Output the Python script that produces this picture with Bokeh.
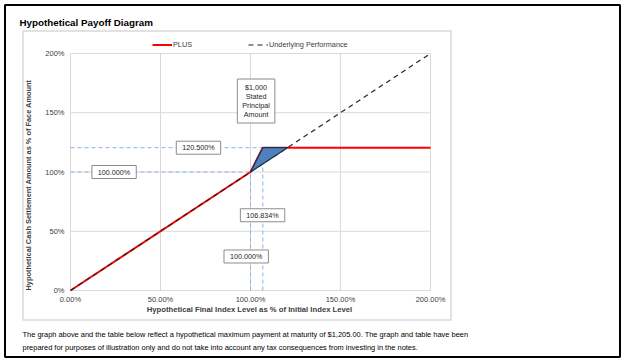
import math
from bokeh.plotting import figure
from bokeh.models import Range1d, Label, Legend, LegendItem, BoxAnnotation
from bokeh.core.properties import value
from bokeh.embed import file_html
from bokeh.resources import INLINE

# ---------------- data ----------------
title_text = "Hypothetical Payoff Diagram"
note_lines = [
    "The graph above and the table below reflect a hypothetical maximum payment at maturity of $1,205.00. The graph and table have been",
    "prepared for purposes of illustration only and do not take into account any tax consequences from investing in the notes.",
]
x_axis_title = "Hypothetical Final Index Level as % of Initial Index Level"
y_axis_title = "Hypothetical Cash Settlement Amount as % of Face Amount"

x_ticks = [0, 50, 100, 150, 200]
x_tick_labels = ["0.00%", "50.00%", "100.00%", "150.00%", "200.00%"]
y_ticks = [0, 50, 100, 150, 200]
y_tick_labels = ["0%", "50%", "100%", "150%", "200%"]

series_names = ["PLUS", "Underlying Performance"]
plus_x = [0, 100, 106.834, 200]
plus_y = [0, 100, 120.5, 120.5]
under_x = [0, 200]
under_y = [0, 200]
gain_x = [100, 106.834, 120.5]
gain_y = [100, 120.5, 120.5]

par_level = 100.0
cap_level = 120.5
cap_index = 106.834

box_texts = ["120.500%", "100.000%", "106.834%", "100.000%", "$1,000\nStated\nPrincipal\nAmount"]

# ---------------- layout (pixels of the canvas) ----------------
W, H = 626, 361
X0, Y0 = 70.0, 290.0                 # canvas pixel of the data origin
SX, SY = 360.0 / 200, 237.0 / 200    # pixels per data unit


def dx(px):
    return (px - X0) / SX


def dy(py):
    return (Y0 - py) / SY


FONT = "Liberation Sans"
GRID = "#d9d9d9"
TXT = "#404040"

p = figure(width=W, height=H, output_backend="svg", toolbar_location=None,
           x_range=Range1d(dx(0), dx(W)), y_range=Range1d(dy(H), dy(0)),
           x_axis_location=None, y_axis_location=None,
           min_border=0, background_fill_color="white", border_fill_color="white",
           outline_line_color=None)
p.grid.visible = False

# outer frame and chart panel
p.add_layout(BoxAnnotation(left=dx(4.5), right=dx(619.5), top=dy(4.5), bottom=dy(356.5),
                           fill_color=None, line_color="black", line_alpha=1, line_width=2,
                           level="underlay"))
p.add_layout(BoxAnnotation(left=dx(22.5), right=dx(450.5), top=dy(30.5), bottom=dy(319.5),
                           fill_color=None, line_color=GRID, line_alpha=1, line_width=1.5,
                           level="underlay"))

# grid lines
p.segment(x0=x_ticks, y0=[y_ticks[0]] * len(x_ticks), x1=x_ticks, y1=[y_ticks[-1]] * len(x_ticks),
          line_color=GRID, line_width=1)
p.segment(x0=[x_ticks[0]] * len(y_ticks), y0=y_ticks, x1=[x_ticks[-1]] * len(y_ticks), y1=y_ticks,
          line_color=GRID, line_width=1)

# tick labels
p.text(x=x_ticks, y=[0] * len(x_ticks), text=x_tick_labels, text_align="center", text_baseline="top",
       y_offset=4, text_font=value(FONT), text_font_size="7.5px", text_color=TXT)
p.text(x=[0] * len(y_ticks), y=y_ticks, text=y_tick_labels, text_align="right", text_baseline="middle",
       x_offset=-6, text_font=value(FONT), text_font_size="7.5px", text_color=TXT)

# axis titles
p.add_layout(Label(x=dx(249), y=dy(309), text=x_axis_title, text_align="center", text_baseline="middle",
                   text_font=FONT, text_font_size="7.7px", text_font_style="bold", text_color=TXT))
p.add_layout(Label(x=dx(28), y=dy(184.5), text=y_axis_title, angle=math.pi / 2,
                   text_align="center", text_baseline="middle",
                   text_font=FONT, text_font_size="7.4px", text_font_style="bold", text_color=TXT))

# reference dashed lines
REF = "#8db3e2"
p.segment(x0=[0, 0, par_level, cap_index], y0=[par_level, cap_level, 0, 0],
          x1=[par_level, cap_index, par_level, cap_index], y1=[par_level, cap_level, par_level, cap_level],
          line_color=REF, line_width=1, line_dash="4 3")

r_plus = p.line(plus_x, plus_y, line_color="#ff0000", line_width=2)
r_under = p.line(under_x, under_y, line_color="#262626", line_width=1.2, line_dash="5 4")
p.patch(gain_x, gain_y, fill_color="#4f81bd", line_color="#1f2f4f", line_width=1.2)

# boxed labels
box_pos = [(71.1, cap_level), (24.2, par_level), (106.7, 63.5), (97.6, 28.7), (103.1, 159.9)]
box_pad = [(6, 2), (6, 2), (6, 2), (6, 2), (5, 4)]
box_lh = [1.2, 1.2, 1.2, 1.2, 1.0]
for t, (bx, by), pad, lh in zip(box_texts, box_pos, box_pad, box_lh):
    p.add_layout(Label(x=bx, y=by, text=t, text_align="center", text_baseline="middle",
                       text_font=FONT, text_font_size="7.2px", text_color="#262626", text_line_height=lh,
                       background_fill_color="white", border_line_color="#8c8c8c", border_line_width=1,
                       padding=pad))

legend = Legend(items=[LegendItem(label=series_names[0], renderers=[r_plus]),
                       LegendItem(label=series_names[1], renderers=[r_under])],
                orientation="horizontal", location=(152, 312), padding=0, margin=0, spacing=55,
                glyph_width=20, glyph_height=9, label_height=9, label_standoff=1,
                label_text_font=FONT, label_text_font_size="7.3px", label_text_color=TXT,
                background_fill_alpha=0, border_line_color=None)
p.add_layout(legend)

# title and note
p.add_layout(Label(x=dx(19), y=dy(21.5), text=title_text, text_align="left", text_baseline="alphabetic",
                   text_font=FONT, text_font_size="9.8px", text_font_style="bold", text_color="black"))
for i, line in enumerate(note_lines):
    p.add_layout(Label(x=dx(22), y=dy(334 + 13 * i), text=line, text_align="left", text_baseline="alphabetic",
                       text_font=FONT, text_font_size="7.45px", text_color="black"))

open("out.html", "w").write(file_html(p, INLINE))
